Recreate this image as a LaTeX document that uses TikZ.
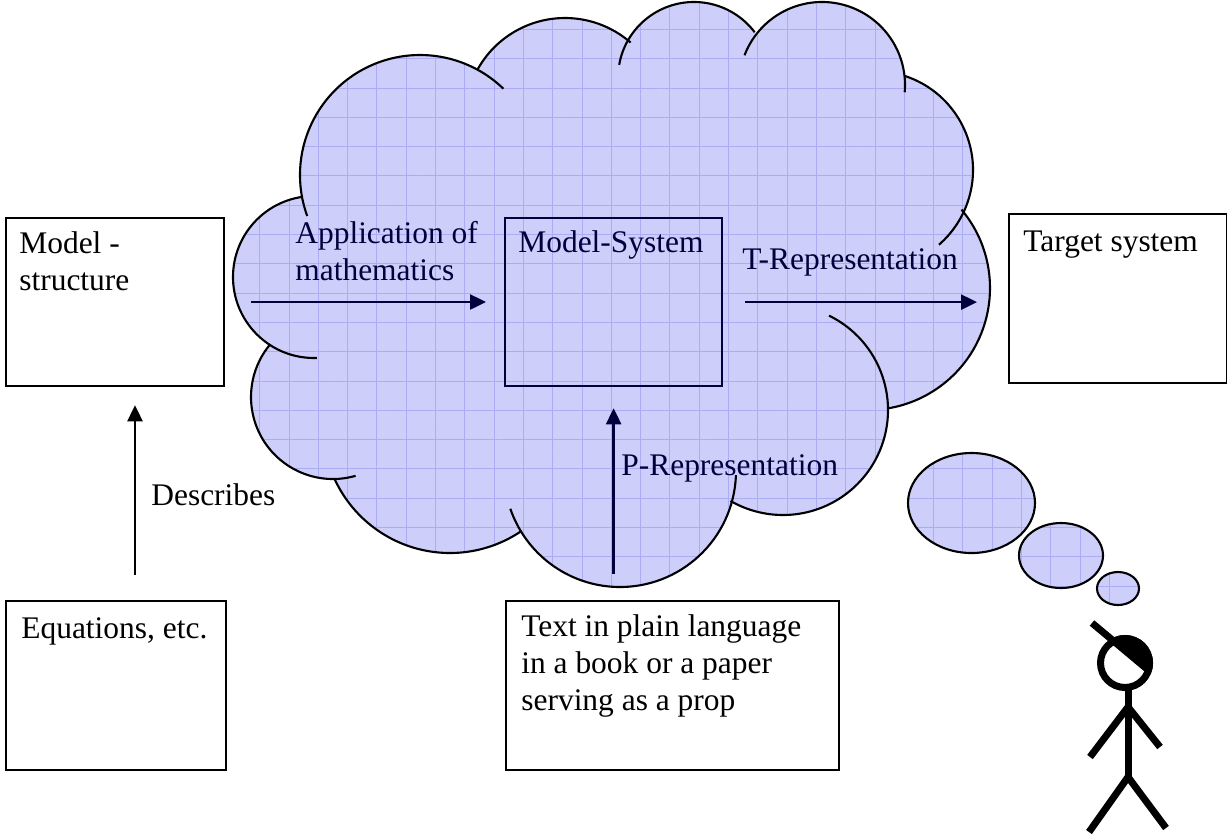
\documentclass[tikz,border=0pt]{standalone}
\usepackage{fontspec}
\setmainfont{Liberation Serif}
\usetikzlibrary{arrows.meta,calc}

\definecolor{cloudblue}{RGB}{206,206,250}
\definecolor{gridblue}{RGB}{172,172,244}
\definecolor{inkblue}{RGB}{0,0,60}

\newcommand{\diagramfont}{\fontsize{17.9pt}{20.8pt}\selectfont}
% squared paper fill, used inside a clip
\newcommand{\skygrid}{%
  \fill[cloudblue] (220,0) rectangle (1150,620);
  \foreach \gx in {230.4,259.7,...,1150} \draw[gridline] (\gx,0) -- (\gx,620);
  \foreach \gy in {0.1,29.4,...,620} \draw[gridline] (220,\gy) -- (1150,\gy);
}

\begin{document}
\begin{tikzpicture}[x=0.02cm, y=-0.02cm,
        % Styles
        box/.style={draw, line width=1.3pt, anchor=north west, inner sep=0pt},
        systembox/.style={box, draw=inkblue},
        boxtext/.style={anchor=base west, inner sep=0pt, align=left, font=\diagramfont},
        cloudtext/.style={boxtext, text=inkblue},
        arrow/.style={-{Triangle[length=0.32cm, width=0.3cm]}, line width=1.4pt, draw=inkblue},
        plainarrow/.style={arrow, draw=black},
        cloudline/.style={line width=1.2pt},
        gridline/.style={draw=gridblue, line width=0.5pt},
        limb/.style={line width=4pt}
      ]
      \useasboundingbox (0,0) rectangle (1227,836);

      % Cloud: paper inside the lobes and the core polygon
      \foreach \cx/\cy/\r in {420/175/120, 565/118/100, 694/78/76, 822/85/83, 874/170/99,
                              868/288/122, 783/410/105, 620/471/116, 450/426/127, 333/397/82, 314/277/81} {
        \begin{scope}
          \clip (\cx,\cy) circle (\r);
          \skygrid
        \end{scope}
      }
      \begin{scope}
        \clip (420,175) -- (565,118) -- (694,78) -- (822,85) -- (874,170) -- (868,288)
          -- (783,410) -- (620,471) -- (450,426) -- (333,397) -- (314,277) -- cycle;
        \skygrid
      \end{scope}

      % Cloud outline, one arc per lobe
      \foreach \cx/\cy/\r/\a/\b in {420/175/120/160/314, 565/118/100/209/311, 694/78/76/190/323,
                                    822/85/83/201/365, 874/170/99/-72/49, 868/288/122/-40/81,
                                    783/410/105/-64/120, 620/471/116/2/161, 450/426/127/56/155,
                                    333/397/82/74/220, 314/277/81/88/262} {
        \draw[cloudline] (\cx,\cy) ++(\a:\r) arc[start angle=\a, end angle=\b, radius=\r];
      }

      % Thought bubbles
      \foreach \cx/\cy/\rx/\ry in {971.5/503/63.5/50, 1061/555.5/42/32.5, 1118/588.5/21/16.5} {
        \begin{scope}
          \clip (\cx,\cy) ellipse [x radius=\rx, y radius=\ry];
          \skygrid
        \end{scope}
        \draw[cloudline] (\cx,\cy) ellipse [x radius=\rx, y radius=\ry];
      }

      % Boxes
      \node[box, minimum width=4.36cm, minimum height=3.36cm] (structure) at (5,217) {};
      \node[box, minimum width=4.4cm, minimum height=3.38cm] (eqs) at (5,600) {};
      \node[box, minimum width=6.66cm, minimum height=3.38cm] (textbox) at (505,600) {};
      \node[systembox, minimum width=4.34cm, minimum height=3.36cm] (msys) at (504,217) {};
      \node[box, minimum width=4.36cm, minimum height=3.38cm] (target) at (1008,213) {};

      % Box texts - base of the last line, relative to each box
      \node[boxtext] at ($(structure.north west) + (14,73)$) {Model -\\structure};
      \node[boxtext] at ($(eqs.north west) + (16,38)$) {Equations, etc.};
      \node[boxtext] at ($(textbox.north west) + (16,110)$) {Text in plain language\\in a book or a paper\\serving as a prop};
      \node[cloudtext] at ($(msys.north west) + (14,35)$) {Model-System};
      \node[boxtext] at ($(target.north west) + (15,38)$) {Target system};

      % Arrows
      \coordinate (appstart) at (251,302);
      \coordinate (descx) at (135,0);
      \draw[arrow, shorten >=0.36cm] (appstart) -- (msys.west |- appstart);
      \draw[arrow, shorten <=0.44cm, shorten >=0.62cm] (msys.east) -- (target.west |- msys.east);
      \draw[arrow, shorten <=0.52cm, shorten >=0.42cm] (textbox.north -| msys.south) -- (msys.south);
      \draw[plainarrow, shorten <=0.5cm, shorten >=0.36cm] (eqs.north -| descx) -- (structure.south -| descx);

      % Arrow labels
      \node[cloudtext] (applabel) at (295,280) {Application of\\mathematics};
      \node[cloudtext] (treplabel) at (742,269) {T-Representation};
      \node[cloudtext] (preplabel) at (621,475) {P-Representation};
      \node[boxtext] (desclabel) at (151,505) {Describes};

      % Thinker
      \coordinate (head) at (1125,663);
      \begin{scope}
        \clip (head) circle (28);
        \fill (1085,617) -- (1175,693) -- (1175,600) -- (1085,600) -- cycle;
      \end{scope}
      \draw[limb] (head) circle (24.5);
      \draw[limb] (1092,623) -- (1147,669);
      \draw[limb] (1128,690) -- (1128,778);
      \draw[limb] (1128,707) -- (1090,757);
      \draw[limb] (1128,707) -- (1160,747);
      \draw[limb] (1128,777) -- (1089,832);
      \draw[limb] (1128,777) -- (1166,828);

    \end{tikzpicture}
\end{document}
